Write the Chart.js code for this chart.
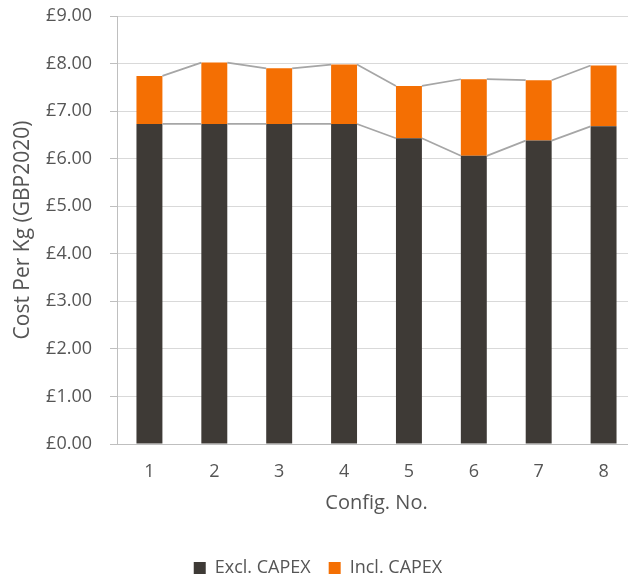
<!DOCTYPE html>
<html>
<head>
<meta charset="utf-8">
<script src="https://cdn.jsdelivr.net/npm/chart.js@4"></script>
<style>
  html, body { margin: 0; padding: 0; overflow: hidden; background: #ffffff; }
  #wrap { width: 640px; height: 579px; }
</style>
</head>
<body>
<div id="wrap"><canvas id="c" width="640" height="579"></canvas></div>
<script>
// Cost per kg by configuration, split into operating cost and the CAPEX share on top
const configs = ['1', '2', '3', '4', '5', '6', '7', '8'];
const exclCapex = [6.73, 6.73, 6.73, 6.73, 6.43, 6.06, 6.38, 6.68];
const capexShare = [1.01, 1.29, 1.17, 1.25, 1.10, 1.61, 1.27, 1.28];
const seriesNames = ['Excl. CAPEX', 'Incl. CAPEX'];
const seriesColors = ['#3E3A36', '#F46F03'];
const yTicks = [0, 1, 2, 3, 4, 5, 6, 7, 8, 9];

const TEXT = '#555555';
const FONT = "'Open Sans', 'Noto Sans', sans-serif";

// Grey connector lines between the tops of each stack segment (like spreadsheet series lines)
const seriesLines = {
  id: 'seriesLines',
  afterDatasetsDraw(chart) {
    const ctx = chart.ctx;
    ctx.save();
    ctx.strokeStyle = '#A6A6A6';
    ctx.lineWidth = 1.75;
    chart.data.datasets.forEach((ds, di) => {
      const bars = chart.getDatasetMeta(di).data;
      ctx.beginPath();
      for (let i = 0; i < bars.length - 1; i++) {
        const a = bars[i], b = bars[i + 1];
        ctx.moveTo(a.x + a.width / 2, a.y);
        ctx.lineTo(b.x - b.width / 2, b.y);
      }
      ctx.stroke();
    });
    ctx.restore();
  }
};

new Chart(document.getElementById('c'), {
  type: 'bar',
  data: {
    labels: configs,
    datasets: [
      { label: seriesNames[0], data: exclCapex, backgroundColor: seriesColors[0] },
      { label: seriesNames[1], data: capexShare, backgroundColor: seriesColors[1] }
    ]
  },
  options: {
    responsive: false,
    animation: false,
    categoryPercentage: 1,
    barPercentage: 0.4,
    layout: { padding: { top: 16, right: 4, bottom: -8, left: 0 } },
    plugins: {
      tooltip: { enabled: false },
      legend: {
        position: 'bottom',
        labels: {
          color: TEXT,
          font: { family: FONT, size: 18 },
          boxWidth: 12,
          boxHeight: 12,
          padding: 18
        }
      }
    },
    scales: {
      x: {
        stacked: true,
        grid: { display: false, drawTicks: false },
        border: { display: true, color: '#BFBFBF', width: 1 },
        ticks: { color: TEXT, font: { family: FONT, size: 18 }, padding: 17, maxRotation: 0 },
        title: {
          display: true,
          text: 'Config. No.',
          color: TEXT,
          font: { family: FONT, size: 20 },
          padding: { top: 26, bottom: 26 }
        },
        afterFit(scale) { scale.height = 97; }
      },
      y: {
        stacked: true,
        min: 0,
        max: 9,
        afterBuildTicks(scale) { scale.ticks = yTicks.map(v => ({ value: v })); },
        grid: { color: '#D9D9D9', tickColor: '#BFBFBF', tickLength: 7, lineWidth: 1 },
        border: { display: true, color: '#BFBFBF', width: 1 },
        ticks: {
          color: TEXT,
          font: { family: FONT, size: 18 },
          padding: 18,
          callback: v => '£' + Number(v).toFixed(2)
        },
        title: {
          display: true,
          text: 'Cost Per Kg (GBP2020)',
          color: TEXT,
          font: { family: FONT, size: 21 },
          padding: { top: 10, bottom: 0 }
        },
        afterFit(scale) {
          scale.width = 117;
          scale.paddingTop = 0;
          scale.paddingBottom = 0;
        }
      }
    }
  },
  plugins: [seriesLines]
});
</script>
</body>
</html>
